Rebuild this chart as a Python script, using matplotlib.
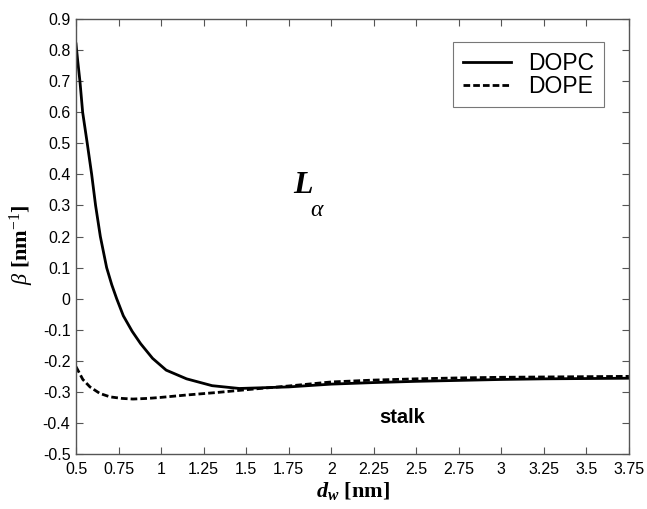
import matplotlib
matplotlib.use("Agg")
import matplotlib.pyplot as plt

# Data
dopc_x = [0.5, 0.51, 0.523, 0.539, 0.566, 0.592, 0.615, 0.643, 0.68, 0.71, 0.739,
          0.778, 0.83, 0.88, 0.95, 1.03, 1.15, 1.3, 1.46, 1.75, 2.0, 2.25, 2.5,
          2.75, 3.0, 3.25, 3.5, 3.75]
dopc_y = [0.82, 0.765, 0.70, 0.60, 0.50, 0.40, 0.30, 0.20, 0.10, 0.045, 0.0,
          -0.055, -0.105, -0.145, -0.192, -0.23, -0.258, -0.28, -0.289, -0.284,
          -0.275, -0.270, -0.266, -0.263, -0.260, -0.258, -0.257, -0.256]

dope_x = [0.5, 0.54, 0.582, 0.64, 0.70, 0.77, 0.835, 0.92, 0.993, 1.15, 1.327,
          1.52, 1.75, 2.0, 2.25, 2.5, 2.75, 3.0, 3.25, 3.5, 3.75]
dope_y = [-0.219, -0.26, -0.284, -0.305, -0.316, -0.321, -0.323, -0.321, -0.318,
          -0.31, -0.302, -0.292, -0.281, -0.268, -0.262, -0.258, -0.255, -0.253,
          -0.252, -0.251, -0.250]

xticks = [0.5, 0.75, 1, 1.25, 1.5, 1.75, 2, 2.25, 2.5, 2.75, 3, 3.25, 3.5, 3.75]
xticklabels = ['0.5', '0.75', '1', '1.25', '1.5', '1.75', '2', '2.25', '2.5',
               '2.75', '3', '3.25', '3.5', '3.75']
yticks = [-0.5, -0.4, -0.3, -0.2, -0.1, 0, 0.1, 0.2, 0.3, 0.4, 0.5, 0.6, 0.7, 0.8, 0.9]
yticklabels = ['-0.5', '-0.4', '-0.3', '-0.2', '-0.1', '0', '0.1', '0.2', '0.3',
               '0.4', '0.5', '0.6', '0.7', '0.8', '0.9']

plt.rcParams['mathtext.fontset'] = 'custom'
plt.rcParams['mathtext.rm'] = 'Liberation Serif'
plt.rcParams['mathtext.it'] = 'Liberation Serif:italic'
plt.rcParams['mathtext.bf'] = 'Liberation Serif:bold:italic'

fig = plt.figure(figsize=(6.47, 5.09), dpi=100)
ax = fig.add_axes([0.1175, 0.108, 0.8545, 0.8545])

ax.plot(dopc_x, dopc_y, color='black', lw=2.0, ls='-', label='DOPC')
ax.plot(dope_x, dope_y, color='black', lw=2.0, ls=(0, (2.4, 1.1)), label='DOPE')

ax.set_xlim(0.5, 3.75)
ax.set_ylim(-0.5, 0.9)
ax.set_xticks(xticks)
ax.set_xticklabels(xticklabels)
ax.set_yticks(yticks)
ax.set_yticklabels(yticklabels)

ax.tick_params(direction='in', top=True, right=True, length=5, width=0.8,
               color='#555555', labelsize=11.5)
ax.tick_params(axis='x', pad=6)
ax.tick_params(axis='y', pad=4)
for lbl in ax.get_xticklabels() + ax.get_yticklabels():
    lbl.set_family('Liberation Sans')
for sp in ax.spines.values():
    sp.set_color('#555555')
    sp.set_linewidth(1.0)

ax.set_xlabel(r'$\mathbf{d}_{\mathbf{w}}$ [nm]', family='Liberation Serif',
              fontweight='bold', fontsize=16, labelpad=2)
ax.set_ylabel(r'$\beta$ [nm$^{-1}$]', family='Liberation Serif',
              fontweight='bold', fontsize=16)
ax.yaxis.set_label_coords(-0.072, 0.48)

ax.text(1.834, 0.369, r'$\mathbf{L}$', fontsize=23, ha='center', va='center')
ax.text(1.92, 0.29, r'$\alpha$', fontsize=17, ha='center', va='center')
ax.text(2.415, -0.381, 'stalk', family='Liberation Sans', fontweight='bold',
        fontsize=14.5, ha='center', va='center')

leg = ax.legend(loc='upper right', bbox_to_anchor=(0.955, 0.947),
                borderaxespad=0, prop={'family': 'Liberation Sans', 'size': 16.5},
                handlelength=2.1, handletextpad=0.75, fancybox=False,
                framealpha=1, edgecolor='#777777', borderpad=0.42,
                labelspacing=0.0)
leg.get_frame().set_linewidth(0.8)

fig.savefig('out.png', dpi=100)
